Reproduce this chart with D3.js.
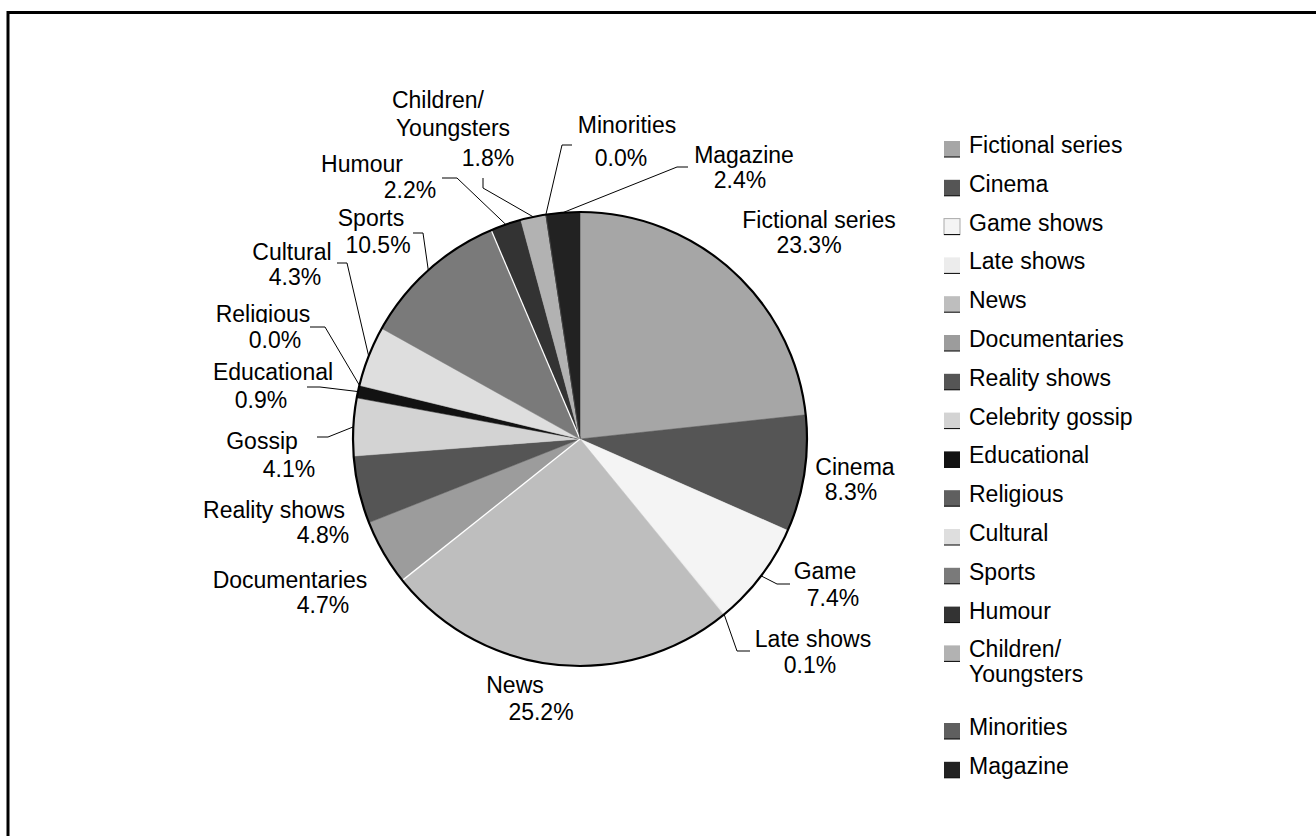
<!DOCTYPE html>
<html>
<head>
<meta charset="utf-8">
<script src="https://cdn.jsdelivr.net/npm/d3@7/dist/d3.min.js"></script>
<style>
  html, body { margin: 0; padding: 0; background: #fff; }
  svg { display: block; }
  text { font-family: "Liberation Sans", Arial, sans-serif; font-size: 23px; fill: #000; }
</style>
</head>
<body>
<svg id="chart" width="1316" height="836"></svg>
<script>
// Share of broadcast time by programme genre (%), clockwise from 12 o'clock
const categories = [
  "Fictional series", "Cinema", "Game shows", "Late shows", "News",
  "Documentaries", "Reality shows", "Celebrity gossip", "Educational",
  "Religious", "Cultural", "Sports", "Humour", "Children/ Youngsters",
  "Minorities", "Magazine"
];
const shares = [23.3, 8.3, 7.4, 0.1, 25.2, 4.7, 4.8, 4.1, 0.9, 0.0, 4.3, 10.5, 2.2, 1.8, 0.0, 2.4];
// Labels written next to the slices
const sliceLabels = [
  "Fictional series", "Cinema", "Game", "Late shows", "News",
  "Documentaries", "Reality shows", "Gossip", "Educational",
  "Religious", "Cultural", "Sports", "Humour", "Children/|Youngsters",
  "Minorities", "Magazine"
];
const greys = [
  "#a6a6a6", "#555555", "#f4f4f4", "#ececec", "#bebebe",
  "#9c9c9c", "#555555", "#d3d3d3", "#121212",
  "#5f5f5f", "#dedede", "#7a7a7a", "#333333", "#b2b2b2",
  "#5f5f5f", "#222222"
];

const svg = d3.select("#chart");
const W = 1316, H = 836;

// frame (top and left edges)
svg.append("line").attr("x1", 8).attr("y1", 12.5).attr("x2", W).attr("y2", 12.5)
  .attr("stroke", "#000").attr("stroke-width", 3);
svg.append("line").attr("x1", 8).attr("y1", 11).attr("x2", 8).attr("y2", H)
  .attr("stroke", "#000").attr("stroke-width", 3);

const cx = 580, cy = 439, R = 227;
const data = categories.map((c, i) => ({ name: c, value: shares[i], color: greys[i], label: sliceLabels[i] }));

const pie = d3.pie().value(d => d.value).sort(null);
const arcs = pie(data);
const arc = d3.arc().innerRadius(0).outerRadius(R);

const g = svg.append("g").attr("transform", `translate(${cx},${cy})`);
g.selectAll("path.slice").data(arcs).enter().append("path")
  .attr("class", "slice")
  .attr("d", arc)
  .attr("fill", d => d.data.color)
  .attr("stroke", d => d.data.color)
  .attr("stroke-width", 0.5);

// thin white seams at a couple of slice edges
const seams = ["Documentaries", "Humour"];
arcs.filter(a => seams.includes(a.data.name)).forEach(a => {
  g.append("line")
    .attr("x1", 0).attr("y1", 0)
    .attr("x2", R * Math.sin(a.startAngle)).attr("y2", -R * Math.cos(a.startAngle))
    .attr("stroke", "#fff").attr("stroke-width", 1.3);
});
// thin dark edge for the empty Minorities wedge
arcs.filter(a => a.data.name === "Minorities").forEach(a => {
  g.append("line")
    .attr("x1", 0).attr("y1", 0)
    .attr("x2", R * Math.sin(a.startAngle)).attr("y2", -R * Math.cos(a.startAngle))
    .attr("stroke", "#444").attr("stroke-width", 0.8);
});

// outline of the pie
g.append("circle").attr("r", R).attr("fill", "none").attr("stroke", "#000").attr("stroke-width", 2.2);

// label layout: per-line [centre x, baseline y], plus leader elbow points
const layout = {
  "Fictional series": { lines: [[819, 228], [809, 253]] },
  "Cinema": { lines: [[855, 475], [851, 500]] },
  "Game shows": { lines: [[825, 579], [833, 606]], leader: [[777, 584], [790, 584]] },
  "Late shows": { lines: [[813, 647], [810, 673]], leader: [[737, 651], [750, 651]] },
  "News": { lines: [[515, 693], [541, 720]] },
  "Documentaries": { lines: [[290, 588], [323, 613]] },
  "Reality shows": { lines: [[274, 518], [323, 543]] },
  "Celebrity gossip": { lines: [[262, 449], [289, 477]], leader: [[328, 437], [317, 437]] },
  "Educational": { lines: [[273, 380], [261, 408]], leader: [[320, 387], [307, 387]] },
  "Religious": { lines: [[263, 322], [275, 348]], leader: [[325, 327], [310, 327]], clipBelow: 323 },
  "Cultural": { lines: [[292, 260], [295, 285]], leader: [[347, 263], [337, 263]] },
  "Sports": { lines: [[371, 226], [378, 253]], leader: [[423, 233], [413, 233]] },
  "Humour": { lines: [[362, 172], [410, 198]], leader: [[457, 178], [442, 178]] },
  "Children/ Youngsters": { lines: [[438, 108], [453, 136], [488, 166]], leader: [[483, 188], [483, 178]] },
  "Minorities": { lines: [[627, 133], [621, 166]], leader: [[562, 145], [572, 145]] },
  "Magazine": { lines: [[744, 163], [740, 188]], leader: [[677, 167], [688, 167]] }
};

// clip used when a label's first line is cut off at its baseline
const defs = svg.append("defs");

const labelG = svg.append("g");
arcs.forEach((a, idx) => {
  const L = layout[a.data.name];
  const mid = (a.startAngle + a.endAngle) / 2;
  const ex = cx + R * Math.sin(mid), ey = cy - R * Math.cos(mid);
  if (L.leader) {
    const pts = [[ex, ey]].concat(L.leader);
    labelG.append("path")
      .attr("d", d3.line()(pts))
      .attr("fill", "none").attr("stroke", "#000").attr("stroke-width", 1);
  }
  const textLines = a.data.label.split("|").concat([d3.format(".1f")(a.data.value) + "%"]);
  textLines.forEach((t, i) => {
    const txt = labelG.append("text")
      .attr("x", L.lines[i][0]).attr("y", L.lines[i][1])
      .attr("text-anchor", "middle")
      .text(t);
    if (i === 0 && L.clipBelow) {
      const id = "clip" + idx;
      defs.append("clipPath").attr("id", id)
        .append("rect").attr("x", 0).attr("y", 0).attr("width", W).attr("height", L.clipBelow);
      txt.attr("clip-path", `url(#${id})`);
    }
  });
});

// legend
const legendNames = categories.map(c => c.replace("Children/ Youngsters", "Children/|Youngsters"));
const lg = svg.append("g").attr("transform", "translate(944,141)");
const rowH = 38.8;
let row = 0;
legendNames.forEach((name, i) => {
  const y = row * rowH;
  const item = lg.append("g").attr("transform", `translate(0,${y})`);
  item.append("rect").attr("width", 16).attr("height", 16)
    .attr("fill", greys[i])
    .attr("stroke", i === 2 ? "#aaa" : "none").attr("stroke-width", 1);
  item.append("line").attr("x1", 0).attr("x2", 16).attr("y1", 16).attr("y2", 16)
    .attr("stroke", "#000").attr("stroke-width", 1);
  const parts = name.split("|");
  parts.forEach((p, k) => {
    item.append("text").attr("x", 25).attr("y", 12 + k * 25).text(p);
  });
  row += parts.length;
});
</script>
</body>
</html>
